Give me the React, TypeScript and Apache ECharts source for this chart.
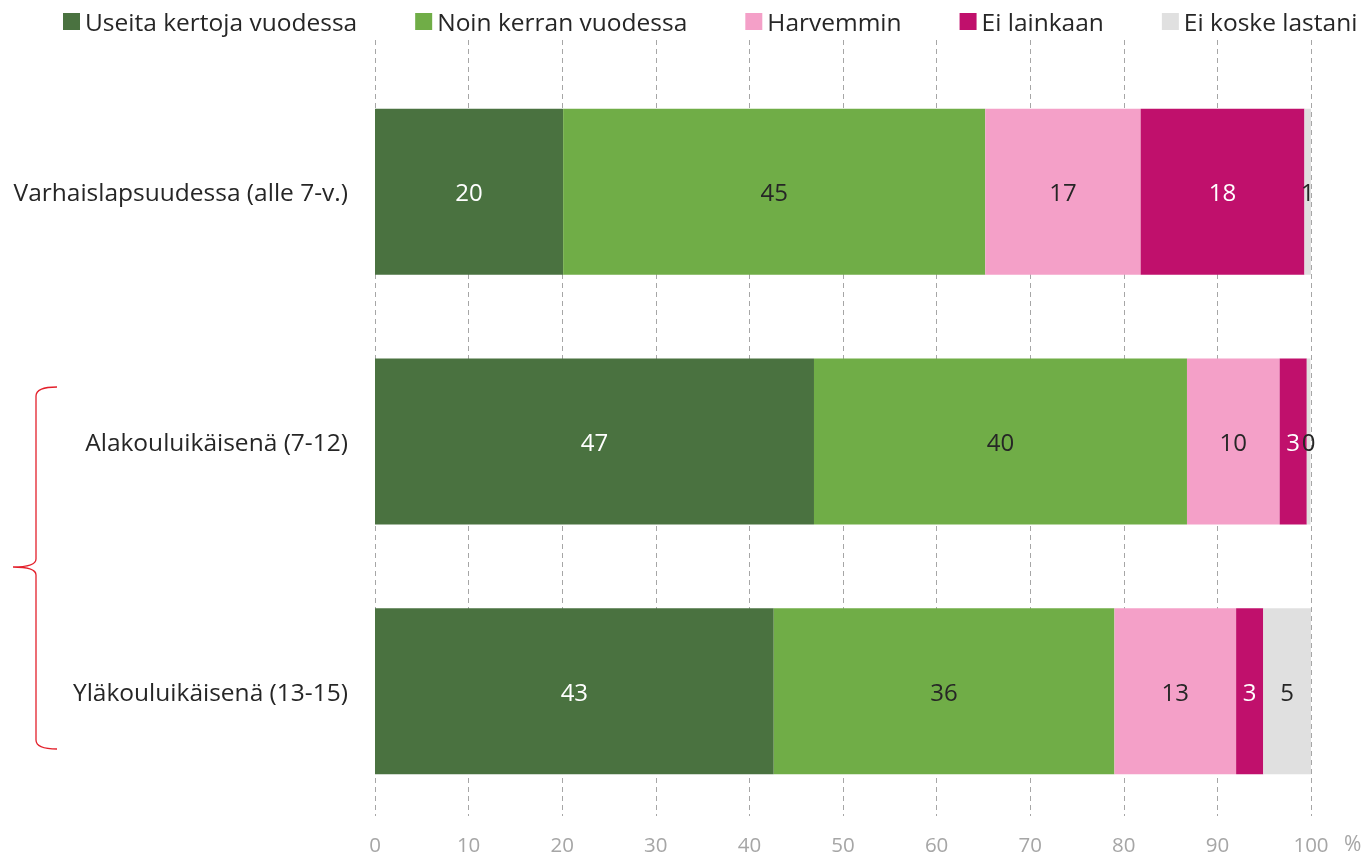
import React, { useEffect, useRef } from "react";
import * as echarts from "echarts";

const categories = [
  "Varhaislapsuudessa (alle 7-v.)",
  "Alakouluikäisenä (7-12)",
  "Yläkouluikäisenä (13-15)",
];
const seriesNames = [
  "Useita kertoja vuodessa",
  "Noin kerran vuodessa",
  "Harvemmin",
  "Ei lainkaan",
  "Ei koske lastani",
];
const useita = [20.1, 46.9, 42.6];
const noinKerran = [45.1, 39.85, 36.4];
const harvemmin = [16.6, 9.9, 13.0];
const eiLainkaan = [17.5, 2.9, 2.9];
const eiKoske = [0.7, 0.4, 5.1];
const seriesValues = [useita, noinKerran, harvemmin, eiLainkaan, eiKoske];
const colors = ["#4a7240", "#70ad47", "#f4a0c8", "#c0106c", "#e0e0e0"];
const labelColors = ["#ffffff", "#262626", "#262626", "#ffffff", "#262626"];
const xTicks = { min: 0, max: 100, interval: 10 };

const FONT = "'Open Sans', 'Noto Sans', sans-serif";

export default function App() {
  const ref = useRef<HTMLDivElement>(null);
  useEffect(() => {
    if (!ref.current) return;
    echarts.graphic.registerShape(
      "brace",
      echarts.graphic.extendPath(
        "M57,387 Q36,387 36,396 L36,559 Q36,567 13,567 Q36,567 36,575 L36,740 Q36,749 57,749",
        {}
      )
    );
    const chart = echarts.init(ref.current, null, { renderer: "svg" });
    const dash = { color: "#a6a6a6", type: [5, 4] as any, width: 1 };
    chart.setOption({
      animation: false,
      textStyle: { fontFamily: FONT },
      legend: {
        top: 4,
        left: 58,
        itemWidth: 17,
        itemHeight: 17,
        itemGap: 58,
        icon: "rect",
        textStyle: { fontSize: 24.5, color: "#262626", fontFamily: FONT },
        data: seriesNames,
      },
      grid: [
        { left: 375, right: 53, top: 67, bottom: 42 },
        { left: 375, right: 53, top: 40, height: 27 },
      ],
      xAxis: [
        {
          type: "value",
          gridIndex: 0,
          ...xTicks,
          axisLine: { show: false },
          axisTick: { show: false },
          splitLine: { show: true, lineStyle: dash },
          axisLabel: { color: "#a6a6a6", fontSize: 20.5, margin: 17, fontFamily: FONT },
        },
        {
          type: "value",
          gridIndex: 1,
          ...xTicks,
          axisLine: { show: false },
          axisTick: { show: false },
          axisLabel: { show: false },
          splitLine: { show: true, lineStyle: dash },
        },
      ],
      yAxis: [
        {
          type: "category",
          gridIndex: 0,
          data: categories,
          inverse: true,
          axisLine: { show: false },
          axisTick: { show: false },
          axisLabel: { color: "#262626", fontSize: 24.5, margin: 27, fontFamily: FONT },
        },
        {
          type: "value",
          gridIndex: 1,
          show: false,
          splitLine: { show: false },
        },
      ],
      series: seriesNames.map((name, i) => ({
        type: "bar",
        name,
        stack: "total",
        xAxisIndex: 0,
        yAxisIndex: 0,
        barCategoryGap: "33.5%",
        data: seriesValues[i],
        itemStyle: { color: colors[i] },
        label: {
          show: true,
          position: "inside",
          color: labelColors[i],
          fontSize: 24,
          fontFamily: FONT,
          formatter: (p: any) => String(Math.round(p.value)),
        },
      })),
      graphic: [
        {
          type: "text",
          left: 1344,
          top: 832,
          style: { text: "%", fontSize: 21, fill: "#a6a6a6", fontFamily: FONT },
        },
        {
          type: "brace",
          x: 0,
          y: 0,
          style: { fill: "none", stroke: "#e3202b", lineWidth: 1.3 },
        },
      ],
    });
    return () => chart.dispose();
  }, []);
  return (
    <div
      ref={ref}
      style={{ position: "fixed", left: 0, top: 0, width: 1364, height: 858 }}
    />
  );
}
